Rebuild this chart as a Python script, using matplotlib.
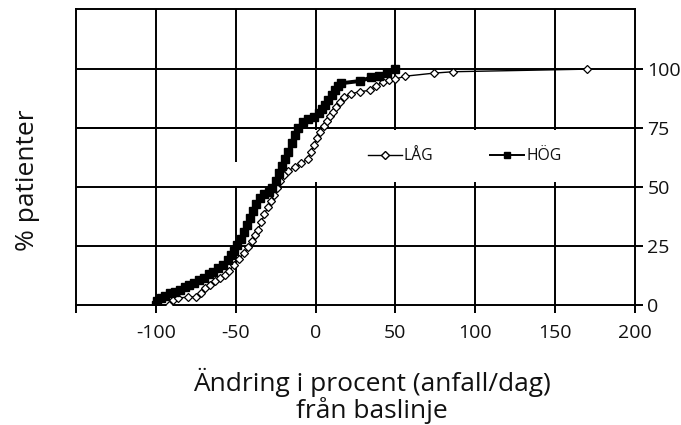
import matplotlib
matplotlib.use("Agg")
import matplotlib.pyplot as plt
from matplotlib.patches import Rectangle
from matplotlib.lines import Line2D

# ---------------------------------------------------------------------------
# Data
# ---------------------------------------------------------------------------
hog_x = [-100, -99, -97, -94, -91, -88, -85, -82, -79, -76, -73, -70, -67,
         -64, -61, -58, -55, -53, -51, -49, -47, -45, -43, -41, -39, -37,
         -35, -32, -29, -27, -25, -23, -21, -19, -17, -15, -13, -11, -8,
         -5, -1, 2, 4, 6, 8, 10, 12, 14, 16, 28, 35, 40, 45, 50]
hog_y = [0, 1.5, 3, 4, 5, 5.5, 6.5, 7.5, 8.5, 9.5, 10.5, 11.5, 13,
         14, 15.5, 17, 19, 21, 23, 25.5, 28, 31, 34, 37, 40, 43,
         45.5, 47, 48, 49.5, 52.5, 56, 59, 62, 65, 68.5, 72, 75, 77.5,
         79, 79.5, 81.5, 83, 85, 87, 89, 91, 93, 94, 95, 96.5, 97, 98.5, 100]

lag_x = [-92, -89, -86, -80, -75, -72, -69, -66, -63, -60, -57, -54, -51,
         -48, -45, -42, -40, -38, -36, -34, -32, -30, -28, -26, -24, -22,
         -20, -17, -13, -9, -5, -3, -1, 1, 3, 5, 7, 9, 11, 13, 15, 18, 22,
         28, 34, 38, 42, 46, 50, 56, 74, 86, 170]
lag_y = [0, 2, 3, 3.3, 3.5, 5, 7, 8.5, 10, 11.5, 12.7, 14.5, 17,
         19.5, 22, 24.5, 27, 29.5, 32, 35, 38.5, 41.5, 44, 46.5, 49.5, 52.5,
         55, 57, 58.5, 60, 62, 65, 68, 71, 73.5, 76, 78, 80, 82, 84, 86, 88, 89.5,
         90.5, 91, 93, 94.5, 95.5, 95.8, 97, 98.3, 98.9, 100]

x_ticks = [-150, -100, -50, 0, 50, 100, 150, 200]
x_tick_labels = ["", "-100", "-50", "0", "50", "100", "150", "200"]
y_ticks = [0, 25, 50, 75, 100]

series_names = ["LÅG", "HÖG"]

# ---------------------------------------------------------------------------
# Style
# ---------------------------------------------------------------------------
plt.rcParams['font.family'] = ['Open Sans', 'DejaVu Sans']
TXT = '#111111'
GRID_LW = 1.4

fig = plt.figure(figsize=(6.81, 4.25), dpi=100)
ax = fig.add_axes([76 / 681, 1 - 305 / 425, (635 - 76) / 681, (305 - 9) / 425])

ax.set_xlim(-150, 200)
ax.set_ylim(0, 125.5)

# grid lines (drawn by hand so they sit under the legend box)
for xv in x_ticks[1:-1]:
    ax.axvline(xv, color='black', lw=GRID_LW, zorder=1)
for yv in y_ticks[1:]:
    ax.axhline(yv, color='black', lw=GRID_LW, zorder=1)

# white legend background that hides part of the vertical grid
ax.add_patch(Rectangle((-5, 52), 165, 22.3, facecolor='white',
                       edgecolor='none', zorder=1.5))
ax.add_patch(Rectangle((-55, 50.6), 10, 10, facecolor='white',
                       edgecolor='none', zorder=1.5))
ax.axhline(75, color='black', lw=GRID_LW, zorder=1.6)

# series
ax.plot(lag_x, lag_y, color='black', lw=1.0, marker='D', markersize=4.2,
        markerfacecolor='white', markeredgecolor='black', markeredgewidth=0.9,
        zorder=3)
ax.plot(hog_x, hog_y, color='black', lw=2.8, marker='s', markersize=5.2,
        markerfacecolor='black', markeredgecolor='black', zorder=4)

# axes / spines
for side in ['top', 'bottom', 'left', 'right']:
    ax.spines[side].set_linewidth(GRID_LW)
    ax.spines[side].set_color('black')

ax.set_xticks(x_ticks)
ax.set_xticklabels(x_tick_labels)
ax.set_yticks(y_ticks)
ax.yaxis.tick_right()
ax.tick_params(axis='both', direction='out', length=6, width=GRID_LW,
               colors='black', labelsize=14, labelcolor=TXT)
ax.tick_params(axis='x', pad=8)
ax.tick_params(axis='y', pad=3)

# legend
handles = [
    Line2D([], [], color='black', lw=1.0, marker='D', markersize=4,
           markerfacecolor='white', markeredgecolor='black'),
    Line2D([], [], color='black', lw=1.4, marker='s', markersize=5,
           markerfacecolor='black'),
]
leg = ax.legend(handles, series_names, ncol=2, frameon=False,
                loc='center', bbox_to_anchor=(0.695, 0.502),
                fontsize=11.3, handlelength=2.2, handletextpad=0.1,
                columnspacing=3.6, labelcolor=TXT)
leg.set_zorder(5)

# axis titles
fig.text(372 / 681, 1 - 382 / 425, "Ändring i procent (anfall/dag)",
         ha='center', va='center', fontsize=19, color=TXT)
fig.text(372 / 681, 1 - 411 / 425, "från baslinje",
         ha='center', va='center', fontsize=19, color=TXT)
fig.text(27 / 681, 1 - 180 / 425, "% patienter", rotation=90,
         ha='center', va='center', fontsize=19, color=TXT)

fig.savefig("out.png", dpi=100, facecolor='white')
